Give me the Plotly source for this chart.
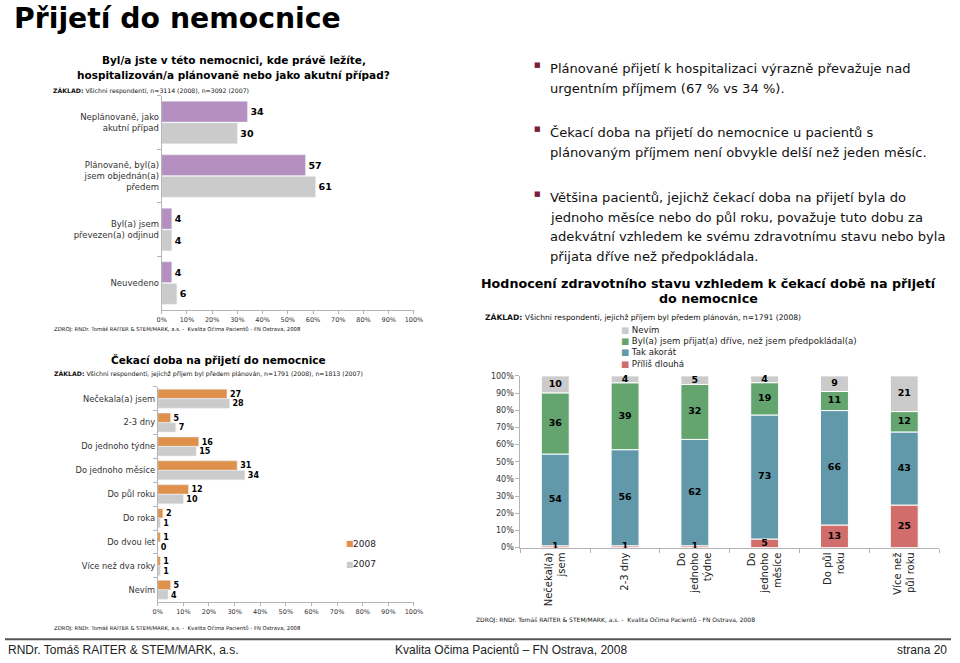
import plotly.graph_objects as go

FONT = "DejaVu Sans"
W, H = 960, 663

# ---------------- data ----------------
c1_categories = ["Neplánovaně, jako<br>akutní případ",
                 "Plánovaně, byl(a)<br>jsem objednán(a)<br>předem",
                 "Byl(a) jsem<br>převezen(a) odjinud",
                 "Neuvedeno"]
c1_2008 = [34, 57, 4, 4]
c1_2007 = [30, 61, 4, 6]

c2_categories = ["Nečekala(a) jsem", "2-3 dny", "Do jednoho týdne", "Do jednoho měsíce",
                 "Do půl roku", "Do roka", "Do dvou let", "Více než dva roky", "Nevím"]
c2_2008 = [27, 5, 16, 31, 12, 2, 1, 1, 5]
c2_2007 = [28, 7, 15, 34, 10, 1, 0, 1, 4]

c3_categories = ["Nečekal(a)<br>jsem", "2-3 dny", "Do<br>jednoho<br>týdne",
                 "Do<br>jednoho<br>měsíce", "Do půl<br>roku", "Více než<br>půl roku"]
c3_too_long = [1, 1, 1, 5, 13, 25]
c3_just_right = [54, 56, 62, 73, 66, 43]
c3_earlier = [36, 39, 32, 19, 11, 12]
c3_dont_know = [10, 4, 5, 4, 9, 21]
c3_names = ["Příliš dlouhá", "Tak akorát",
            "Byl(a) jsem přijat(a) dříve, než jsem předpokládal(a)", "Nevím"]

pct_ticks = list(range(0, 101, 10))
pct_labels = [f"{v}%" for v in pct_ticks]

# ---------------- styles ----------------
PURPLE = "#b48fc0"
GREY = "#cbcbcb"
ORANGE = "#df914b"
RED = "#d16d6b"
TEAL = "#6299aa"
GREEN = "#63a46f"
AXIS = "#b5b5b5"


def fx(p):
    return p / W


def fy(p):
    return 1 - p / H


fig = go.Figure()

# ---------- chart 1 ----------
for name, vals, col in [("2008", c1_2008, PURPLE), ("2007", c1_2007, GREY)]:
    fig.add_trace(go.Bar(
        y=c1_categories, x=vals, orientation="h", name=name, marker_color=col,
        text=vals, textposition="outside", cliponaxis=False, textangle=0,
        textfont=dict(family=FONT, size=9.5, color="black", weight="bold"),
        xaxis="x", yaxis="y", showlegend=False))

# ---------- chart 2 ----------
for name, vals, col in [("2008", c2_2008, ORANGE), ("2007", c2_2007, GREY)]:
    fig.add_trace(go.Bar(
        y=c2_categories, x=vals, orientation="h", name=name, marker_color=col,
        text=vals, textposition="outside", cliponaxis=False, textangle=0,
        textfont=dict(family=FONT, size=9.5, color="black", weight="bold"),
        xaxis="x2", yaxis="y2", showlegend=False))

# ---------- chart 3 (100 % stacked) ----------
c3_series = [c3_too_long, c3_just_right, c3_earlier, c3_dont_know]
c3_colors = [RED, TEAL, GREEN, GREY]
totals = [sum(s[i] for s in c3_series) for i in range(len(c3_categories))]
cum = [0.0] * len(c3_categories)
lab_x, lab_y, lab_t = [], [], []
for name, vals, col in zip(c3_names, c3_series, c3_colors):
    heights = [v / t * 100 for v, t in zip(vals, totals)]
    fig.add_trace(go.Bar(
        x=c3_categories, y=heights, base=list(cum), name=name,
        marker=dict(color=col, line=dict(color="white", width=1)),
        width=0.4, offset=-0.2, textposition="none",
        xaxis="x3", yaxis="y3", showlegend=False))
    for i, (c, h, v) in enumerate(zip(cum, heights, vals)):
        lab_x.append(c3_categories[i])
        lab_y.append(c + h / 2)
        lab_t.append(str(v))
    cum = [c + h for c, h in zip(cum, heights)]
fig.add_trace(go.Scatter(
    x=lab_x, y=lab_y, text=lab_t, mode="text", cliponaxis=False,
    textfont=dict(family=FONT, size=9.5, color="black", weight="bold"),
    xaxis="x3", yaxis="y3", showlegend=False, hoverinfo="skip"))

# ---------------- axes ----------------
tickfont_small = dict(family=FONT, size=6.5, color="#333")
common_x = dict(range=[0, 100], tickvals=pct_ticks, ticktext=pct_labels,
                showgrid=False, zeroline=False, showline=True, linecolor=AXIS,
                ticks="outside", ticklen=3, tickcolor=AXIS, fixedrange=True)
common_y = dict(autorange="reversed", showgrid=False, zeroline=False, showline=True,
                linecolor=AXIS, ticks="outside", ticklen=4, tickcolor=AXIS,
                tickson="boundaries", fixedrange=True)

fig.update_layout(
    xaxis=dict(domain=[fx(159), fx(415)], anchor="y", tickfont=tickfont_small, **common_x),
    yaxis=dict(domain=[fy(310), fy(93)], anchor="x",
               tickfont=dict(family=FONT, size=8.5, color="#333"), **common_y),
    xaxis2=dict(domain=[fx(155), fx(415)], anchor="y2", tickfont=tickfont_small, **common_x),
    yaxis2=dict(domain=[fy(606), fy(388)], anchor="x2",
                tickfont=dict(family=FONT, size=8.3, color="#333"), **common_y),
    xaxis3=dict(domain=[fx(523), fx(948)], anchor="y3", showgrid=False, zeroline=False,
                showline=True, linecolor=AXIS, ticks="outside", ticklen=4, tickcolor=AXIS,
                tickson="boundaries", tickangle=-90, fixedrange=True, range=[-0.5, 5.5],
                tickfont=dict(family=FONT, size=10, color="#222")),
    yaxis3=dict(domain=[fy(551), fy(377)], anchor="x3", range=[0, 100],
                tickvals=pct_ticks, ticktext=pct_labels, showgrid=False, zeroline=False,
                showline=True, linecolor=AXIS, ticks="outside", ticklen=4, tickcolor=AXIS,
                fixedrange=True, tickfont=dict(family=FONT, size=8, color="#333")),
    barmode="group", bargap=0.19, bargroupgap=0.04,
    width=W, height=H, margin=dict(l=0, r=0, t=0, b=0),
    paper_bgcolor="white", plot_bgcolor="white",
    font=dict(family=FONT, color="#222"),
    showlegend=False,
)

# ---------------- text ----------------
ann = []


def text(x, y, t, size, xanchor="left", bold=False, color="#111", family=FONT, align="left"):
    ann.append(dict(x=fx(x), y=fy(y), xref="paper", yref="paper", text=t, align=align,
                    showarrow=False, xanchor=xanchor, yanchor="middle",
                    font=dict(family=family, size=size, color=color,
                              weight="bold" if bold else "normal")))


text(7, 15, "Přijetí do nemocnice", 28.3, bold=True, color="#000")

# chart 1 header/footer
text(232, 57, "Byl/a jste v této nemocnici, kde právě ležíte,", 10.5, "center", True, "#000")
text(232, 72, "hospitalizován/a plánovaně nebo jako akutní případ?", 10.5, "center", True, "#000")
text(47, 88, "<b>ZÁKLAD:</b> Všichni respondenti, n=3114 (2008), n=3092 (2007)", 6.2)
text(48, 330, "ZDROJ: RNDr. Tomáš RAITER & STEM/MARK, a.s. -  Kvalita Očima Pacientů - FN Ostrava, 2008", 5.3)

# chart 2 header/footer/legend
text(217, 361, "Čekací doba na přijetí do nemocnice", 10.5, "center", True, "#000")
text(48, 375, "<b>ZÁKLAD:</b> Všichni respondenti, jejichž příjem byl předem plánován, n=1791 (2008), n=1813 (2007)", 6.2)
text(48, 633, "ZDROJ: RNDr. Tomáš RAITER & STEM/MARK, a.s. -  Kvalita Očima Pacientů - FN Ostrava, 2008", 5.3)
for (lab, col), yy in zip([("2008", ORANGE), ("2007", GREY)], [547, 568]):
    text(344, yy, "■", 8, color=col)
    text(351, yy, lab, 9, color="#222")

# bullets
bullets = [
    (62, ["Plánované přijetí k hospitalizaci výrazně převažuje nad",
          "urgentním příjmem (67 % vs 34 %)."], [65, 86]),
    (127, ["Čekací doba na přijetí do nemocnice u pacientů s",
           "plánovaným příjmem není obvykle delší než jeden měsíc."], [130, 151]),
    (193, ["Většina pacientů, jejichž čekací doba na přijetí byla do",
           "jednoho měsíce nebo do půl roku, považuje tuto dobu za",
           "adekvátní vzhledem ke svému zdravotnímu stavu nebo byla",
           "přijata dříve než předpokládala."], [196, 216, 236, 256]),
]
for by, lines, ys in bullets:
    text(535, by, "■", 7, color="#7b1d3d")
    for ln, yy in zip(lines, ys):
        text(551, yy, ln, 13.1, color="#111")

# chart 3 header/legend/footer
text(714, 283, "Hodnocení zdravotního stavu vzhledem k čekací době na přijetí", 12.7, "center", True, "#000")
text(714, 299, "do nemocnice", 12.7, "center", True, "#000")
text(485, 317, "<b>ZÁKLAD:</b> Všichni respondenti, jejichž příjem byl předem plánován, n=1791 (2008)", 7.6)
leg_items = [("Nevím", GREY), (c3_names[2], GREEN), ("Tak akorát", TEAL), ("Příliš dlouhá", RED)]
leg_text = "<br>".join(f"<span style='color:{col}'>■</span> {lab}" for lab, col in leg_items)
text(623, 348, leg_text, 8.6, color="#222")
text(476, 624, "ZDROJ: RNDr. Tomáš RAITER & STEM/MARK, a.s. -  Kvalita Očima Pacientů - FN Ostrava, 2008", 6)

# footer
text(1, 655, "RNDr. Tomáš RAITER & STEM/MARK, a.s.", 12, family="Liberation Sans", color="#222")
text(513, 655, "Kvalita Očima Pacientů – FN Ostrava, 2008", 12, "center", family="Liberation Sans", color="#222")
text(958, 655, "strana 20", 12, "right", family="Liberation Sans", color="#222")

fig.update_layout(annotations=ann, shapes=[
    dict(type="line", xref="paper", yref="paper", x0=0, x1=1, y0=fy(644), y1=fy(644),
         line=dict(color="#555", width=2))
])

fig.write_html("out.html", config={"displayModeBar": False},
               post_script="document.body.style.margin='0';document.body.style.overflow='hidden';")
